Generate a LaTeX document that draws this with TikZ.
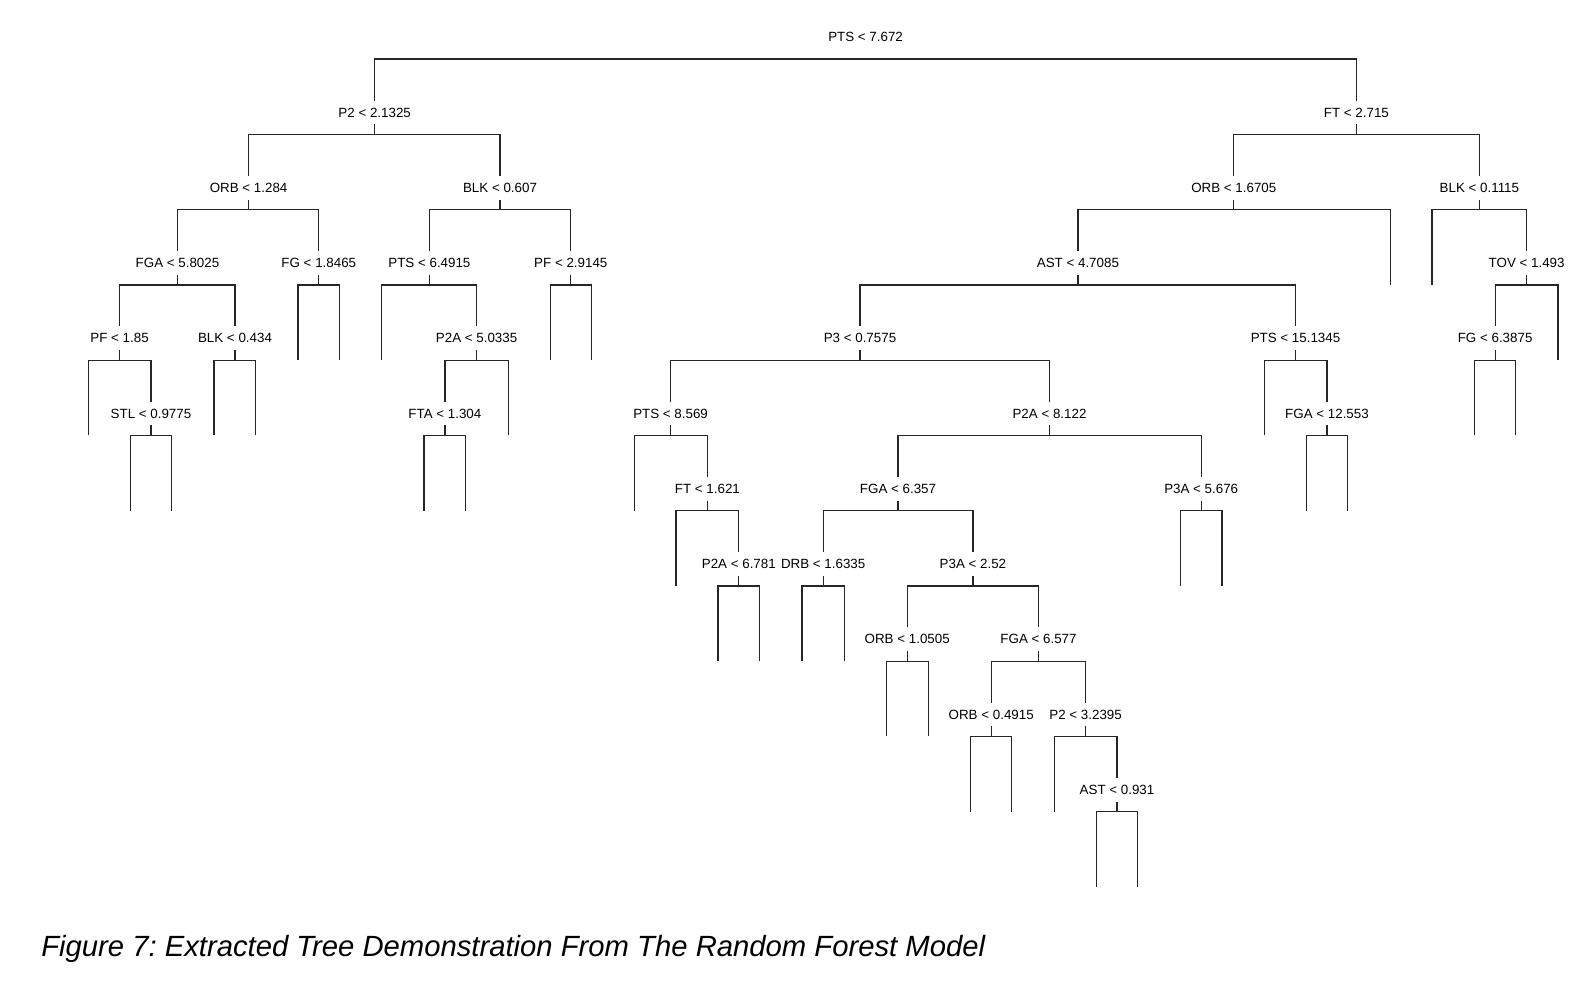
\documentclass[tikz,border=0pt]{standalone}
\usepackage{fontspec}
\setmainfont{Liberation Sans}
\usetikzlibrary{positioning}

\tikzset{
  splitnode/.style={inner sep=0pt, minimum height=16.6pt, font=\fontsize{9.5pt}{11pt}\selectfont},
  treeline/.style={line width=0.85pt, black!85},
}
% tick under a split, then the bar to both children
\newcommand{\fork}[3]{%
  \draw [treeline] (#1.south) -- ++(0,10.1) coordinate (#1bar);
  \draw [treeline] (#2) |- (#1bar) -| (#3);
}

\begin{document}
\begin{tikzpicture}[x=0.025cm, y=-0.025cm]
    \useasboundingbox (0,0) rectangle (1588,1002);

    % Root
    \node [splitnode] (pts1) at (865.6,37.2) {PTS < 7.672};
    \coordinate (pts1bar) at (865.6,59);

    % Level 1
    \node [splitnode] (p2a) at (374.7,112.45) {P2 < 2.1325};
    \node [splitnode] (ft1) at (1356.4,112.45) {FT < 2.715};

    % Level 2
    \node [splitnode] (orb1) at (248.6,187.7) {ORB < 1.284};
    \node [splitnode] (blk1) at (500,187.7) {BLK < 0.607};
    \node [splitnode] (orb2) at (1233.8,187.7) {ORB < 1.6705};
    \node [splitnode] (blk2) at (1479.4,187.7) {BLK < 0.1115};
    \coordinate (orb2r) at (1390.5,284.75);
    \coordinate (blk2l) at (1432,284.75);

    % Level 3
    \node [splitnode] (fga1) at (177.5,262.95) {FGA < 5.8025};
    \node [splitnode] (fg1) at (318.8,262.95) {FG < 1.8465};
    \node [splitnode] (pts2) at (429.4,262.95) {PTS < 6.4915};
    \node [splitnode] (pf1) at (570.8,262.95) {PF < 2.9145};
    \node [splitnode] (ast1) at (1077.9,262.95) {AST < 4.7085};
    \node [splitnode] (tov1) at (1526.6,262.95) {TOV < 1.493};
    \coordinate (fg1l) at (298,360);
    \coordinate (fg1r) at (339.5,360);
    \coordinate (pts2l) at (381.8,360);
    \coordinate (pf1l) at (550.3,360);
    \coordinate (pf1r) at (591.5,360);
    \coordinate (tov1r) at (1558,360);

    % Level 4
    \node [splitnode] (pf2) at (119.6,338.2) {PF < 1.85};
    \node [splitnode] (blk3) at (235,338.2) {BLK < 0.434};
    \node [splitnode] (ptwoa1) at (476.6,338.2) {P2A < 5.0335};
    \node [splitnode] (p3) at (860,338.2) {P3 < 0.7575};
    \node [splitnode] (pts3) at (1295.5,338.2) {PTS < 15.1345};
    \node [splitnode] (fg2) at (1495.1,338.2) {FG < 6.3875};
    \coordinate (pf2l) at (88.3,435.25);
    \coordinate (blk3l) at (214,435.25);
    \coordinate (blk3r) at (255.8,435.25);
    \coordinate (ptwoa1r) at (508.3,435.25);
    \coordinate (pts3l) at (1264.3,435.25);
    \coordinate (fg2l) at (1474.5,435.25);
    \coordinate (fg2r) at (1515.7,435.25);

    % Level 5
    \node [splitnode] (stl) at (151,413.45) {STL < 0.9775};
    \node [splitnode] (fta) at (444.9,413.45) {FTA < 1.304};
    \node [splitnode] (pts4) at (670.6,413.45) {PTS < 8.569};
    \node [splitnode] (ptwoa2) at (1049.5,413.45) {P2A < 8.122};
    \node [splitnode] (fga2) at (1327,413.45) {FGA < 12.553};
    \coordinate (stll) at (130.6,510.5);
    \coordinate (stlr) at (171.4,510.5);
    \coordinate (ftal) at (424,510.5);
    \coordinate (ftar) at (465.8,510.5);
    \coordinate (pts4l) at (634.2,510.5);
    \coordinate (fga2l) at (1306.5,510.5);
    \coordinate (fga2r) at (1347.8,510.5);

    % Level 6
    \node [splitnode] (ft2) at (707.4,488.7) {FT < 1.621};
    \node [splitnode] (fga3) at (898,488.7) {FGA < 6.357};
    \node [splitnode] (p3a1) at (1201.2,488.7) {P3A < 5.676};
    \coordinate (ft2l) at (676,585.75);
    \coordinate (p3a1l) at (1180.4,585.75);
    \coordinate (p3a1r) at (1222,585.75);

    % Level 7
    \node [splitnode] (ptwoa3) at (738.8,563.95) {P2A < 6.781};
    \node [splitnode] (drb) at (823.2,563.95) {DRB < 1.6335};
    \node [splitnode] (p3a2) at (972.9,563.95) {P3A < 2.52};
    \coordinate (ptwoa3l) at (718,661);
    \coordinate (ptwoa3r) at (759.8,661);
    \coordinate (drbl) at (802,661);
    \coordinate (drbr) at (844.3,661);

    % Level 8
    \node [splitnode] (orb3) at (907.2,639.2) {ORB < 1.0505};
    \node [splitnode] (fga4) at (1038.5,639.2) {FGA < 6.577};
    \coordinate (orb3l) at (886.3,736.25);
    \coordinate (orb3r) at (928.1,736.25);

    % Level 9
    \node [splitnode] (orb4) at (991.2,714.45) {ORB < 0.4915};
    \node [splitnode] (ptwob) at (1085.6,714.45) {P2 < 3.2395};
    \coordinate (orb4l) at (970.7,811.5);
    \coordinate (orb4r) at (1011.7,811.5);
    \coordinate (ptwobl) at (1054.2,811.5);

    % Level 10
    \node [splitnode] (ast2) at (1117,789.7) {AST < 0.931};
    \coordinate (ast2l) at (1096.5,886.75);
    \coordinate (ast2r) at (1137.6,886.75);

    % Branches
    \draw [treeline] (p2a) |- (pts1bar) -| (ft1);
    \fork{p2a}{orb1}{blk1}
    \fork{ft1}{orb2}{blk2}
    \fork{orb1}{fga1}{fg1}
    \fork{blk1}{pts2}{pf1}
    \fork{orb2}{ast1}{orb2r}
    \fork{blk2}{blk2l}{tov1}
    \fork{fga1}{pf2}{blk3}
    \fork{fg1}{fg1l}{fg1r}
    \fork{pts2}{pts2l}{ptwoa1}
    \fork{pf1}{pf1l}{pf1r}
    \fork{ast1}{p3}{pts3}
    \fork{tov1}{fg2}{tov1r}
    \fork{pf2}{pf2l}{stl}
    \fork{blk3}{blk3l}{blk3r}
    \fork{ptwoa1}{fta}{ptwoa1r}
    \fork{p3}{pts4}{ptwoa2}
    \fork{pts3}{pts3l}{fga2}
    \fork{fg2}{fg2l}{fg2r}
    \fork{stl}{stll}{stlr}
    \fork{fta}{ftal}{ftar}
    \fork{pts4}{pts4l}{ft2}
    \fork{ptwoa2}{fga3}{p3a1}
    \fork{fga2}{fga2l}{fga2r}
    \fork{ft2}{ft2l}{ptwoa3}
    \fork{fga3}{drb}{p3a2}
    \fork{p3a1}{p3a1l}{p3a1r}
    \fork{ptwoa3}{ptwoa3l}{ptwoa3r}
    \fork{drb}{drbl}{drbr}
    \fork{p3a2}{orb3}{fga4}
    \fork{orb3}{orb3l}{orb3r}
    \fork{fga4}{orb4}{ptwob}
    \fork{orb4}{orb4l}{orb4r}
    \fork{ptwob}{ptwobl}{ast2}
    \fork{ast2}{ast2l}{ast2r}

    % Caption
    \node [anchor=base west, inner sep=0pt, font=\fontsize{20.8pt}{24pt}\selectfont\itshape\frenchspacing] (caption) at (41,956) {Figure 7: Extracted Tree Demonstration From The Random Forest Model};
\end{tikzpicture}
\end{document}
